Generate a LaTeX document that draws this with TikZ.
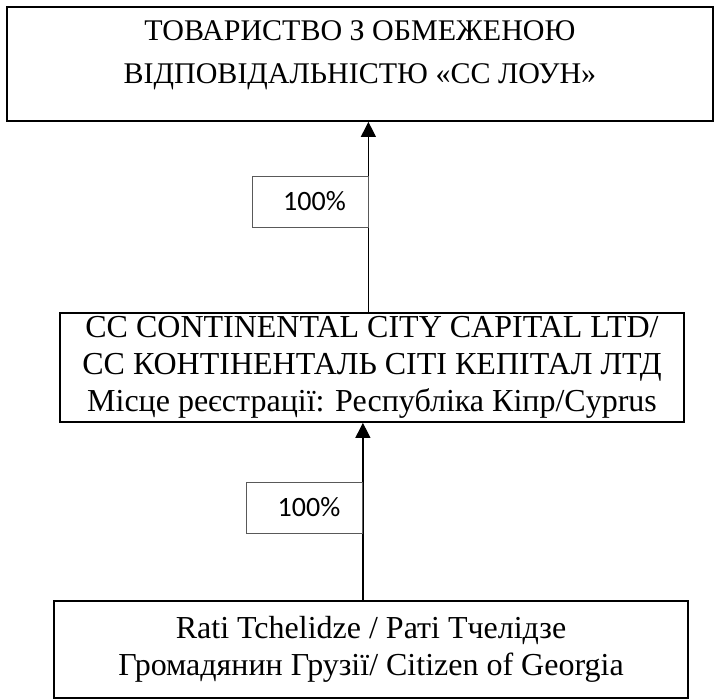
\documentclass[tikz,border=0pt]{standalone}
\usepackage{fontspec}
\setmainfont{Liberation Serif}
\newfontfamily\sharefont{Carlito}
\usetikzlibrary{arrows.meta,backgrounds}

\begin{document}
\begin{tikzpicture}[x=1pt,y=-1pt,
    firm/.style={draw, line width=1.8pt, align=center, inner sep=0pt,
      font=\fontsize{32}{37}\selectfont},
    share/.style={draw=black!65, line width=0.8pt, inner sep=0pt,
      minimum width=116pt, minimum height=51pt, font=\sharefont\fontsize{28}{30}\selectfont},
    line/.style={draw, -{Triangle[length=15pt,width=15pt]}, line width=1.2pt},
    ]
    \useasboundingbox (0,0) rectangle (718,700);
    % Place nodes
    \node [firm, minimum width=706pt, minimum height=114pt, font=\fontsize{30}{43}\selectfont] (llc) at (360,64)
      {ТОВАРИСТВО З ОБМЕЖЕНОЮ\\ВІДПОВІДАЛЬНІСТЮ «СС ЛОУН»\\[-20pt]\mbox{}};
    \node [firm, minimum width=624pt, minimum height=109pt] (ccc) at (372,367.5)
      {CC CONTINENTAL CITY CAPITAL LTD/\\СС КОНТІНЕНТАЛЬ СІТІ КЕПІТАЛ ЛТД\\Місце реєстрації: Республіка Кіпр/Cyprus};
    \node [firm, minimum width=634pt, minimum height=97pt] (owner) at (371,649.5)
      {Rati Tchelidze / Раті Тчелідзе\\Громадянин Грузії/ Citizen of Georgia};
    \node [share] (share1) at (310,201.5) {\hspace*{9pt}100\%};
    \node [share] (share2) at (304.5,507.5) {\hspace*{9pt}100\%};

    % Draw edges
    \begin{scope}[on background layer]
      \path [line] (share1.east |- ccc.north) -- (share1.east |- llc.south);
      \path [line] (share2.east |- owner.north) -- (share2.east |- ccc.south);
    \end{scope}
\end{tikzpicture}
\end{document}
